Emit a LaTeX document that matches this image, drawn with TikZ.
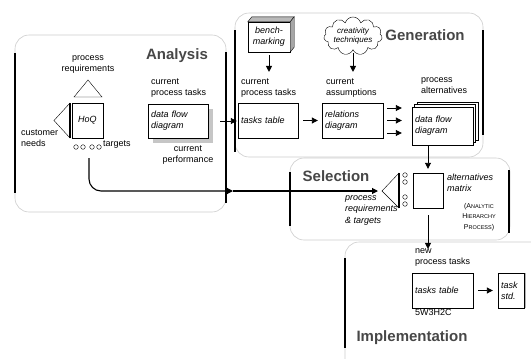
\documentclass[tikz,border=0pt]{standalone}
\usepackage{fontspec}
\setmainfont{Liberation Sans}
\usetikzlibrary{arrows.meta,calc,shadows,shapes.symbols}

\newcommand{\fakesc}[2]{#1{\fontsize{5.5}{6}\selectfont #2}}

\begin{document}
\begin{tikzpicture}[x=1pt, y=-1pt, font=\fontsize{9}{11}\selectfont, >={Triangle[length=6pt,width=6pt]}]

  \tikzstyle{panel}=[draw=gray!40, line width=0.6pt, rounded corners=14pt]
  \tikzstyle{panel edge}=[line width=1.4pt]
  \tikzstyle{title}=[font=\fontsize{15}{15}\selectfont\bfseries, text=black!72]
  \tikzstyle{caption}=[inner sep=0pt, align=left]
  \tikzstyle{plainbox}=[draw, fill=white, inner sep=3pt, align=left, font=\fontsize{9}{11}\selectfont\itshape]
  \tikzstyle{taskbox}=[plainbox, path picture={\draw[line width=2.8pt] (path picture bounding box.north west) -- (path picture bounding box.south west);}]
  \tikzstyle{flow}=[->, line width=0.9pt]

  \clip (0,0) rectangle (531,359);

  % panels
  \draw[panel] (15,35) rectangle (226,212);
  \draw[panel edge] (15,53) -- (15,193) (226,52) -- (226,203);
  \draw[panel] (235,13) rectangle (483,157);
  \draw[panel edge] (235,30) -- (235,152) (483,30) -- (483,135);
  \draw[panel] (290,158) rectangle (510,240);
  \draw[panel edge] (290,172) -- (290,226) (509,170) -- (509,233);
  \draw[panel] (345,242) rectangle (570,390);
  \draw[panel edge] (345,258) -- (345,348);

  % Analysis
  \node[title] (analysis) at (177,56) {Analysis};
  \node[caption, align=center] (procreq) at (88,65) {process\\requirements};
  \node[taskbox, align=center, minimum width=31pt, minimum height=35pt] (hoq) at (87.5,120.5) {HoQ};
  \draw (74,97) -- (88,80) -- (102,97) -- cycle;
  \draw (70,103) -- (54,120.5) -- (70,138);
  \draw[panel edge] (70,103) -- (70,138);
  \node[caption, anchor=west] (custneeds) at (21,138) {customer\\needs};
  \foreach \x in {76,83,92,99}
    \draw (\x,147) circle (2.3pt);
  \node[caption, anchor=west] (targets) at (103,144.5) {targets};
  \node[caption, anchor=west] (capAT) at (151,88.5) {current\\process tasks};
  \node[taskbox, text width=54pt, minimum height=34pt,
        drop shadow={shadow xshift=5pt, shadow yshift=-5pt, fill=gray!45, opacity=1}] (dfdA) at (178,121) {data flow\\diagram};
  \node[caption, align=center] (curperf) at (188,155.5) {current\\performance};

  % Generation
  \node[title] (generation) at (425,35) {Generation};
  \node[taskbox, align=center, text width=36pt, minimum height=30pt] (bench) at (269,37) {bench-\\marking};
  \filldraw[fill=gray!55] (bench.north west) -- ++(4,-5) -- ([shift={(4,-5)}]bench.north east) -- (bench.north east) -- cycle;
  \filldraw[fill=gray!70] (bench.north east) -- ++(4,-5) -- ([shift={(4,-5)}]bench.south east) -- (bench.south east) -- cycle;
  \node[cloud, draw, cloud puffs=11, aspect=2, inner sep=0pt, minimum width=57pt, minimum height=33pt,
        align=center, font=\fontsize{8}{8.5}\selectfont\itshape] (creat) at (353,36) {creativity\\techniques};
  \node[caption, anchor=west] (capGT) at (241,88.5) {current\\process tasks};
  \node[caption, anchor=west] (capCA) at (326,88.5) {current\\assumptions};
  \node[caption, anchor=west] (capPA) at (421,86) {process\\alternatives};
  \node[taskbox, text width=54pt, minimum height=35pt] (ttG) at (268,120.5) {tasks table};
  \node[taskbox, text width=55pt, minimum height=35pt] (relG) at (352.5,120.5) {relations\\diagram};
  \node[plainbox, text width=55pt, minimum height=38pt,
        double copy shadow={shadow xshift=2.5pt, shadow yshift=2.5pt}] (paG) at (442.5,126) {data flow\\diagram};

  \draw[flow, shorten <=3pt, shorten >=7pt] (bench.south) -- (bench.south |- capGT.north);
  \draw[flow, shorten <=3pt, shorten >=7pt] (creat.south) -- (creat.south |- capCA.north);
  \draw[flow, shorten <=12pt, shorten >=1pt] (dfdA.east) -- (dfdA.east -| ttG.west);
  \draw[flow, shorten <=5pt, shorten >=4pt] (ttG) -- (relG);
  \foreach \dy in {-12.5,0,12.5}
    \draw[flow, shorten <=4pt, shorten >=10pt] ($(relG.east)+(0,\dy)$) -- ($(relG.east -| paG.west)+(0,\dy)$);

  % Selection
  \node[title] (selection) at (336,176) {Selection};
  \coordinate (selapex) at (382,191);
  \draw (399,173) -- (selapex) -- (399,208);
  \draw[panel edge] (399,173) -- (399,208);
  \foreach \y in {175,182,197,204}
    \draw (405,\y) circle (2.3pt);
  \node[draw, minimum width=30pt, minimum height=35pt] (altmat) at (428,190.5) {};
  \node[caption, anchor=west, font=\fontsize{9}{11}\selectfont\itshape] (capAM) at (447,183) {alternatives\\matrix};
  \node[caption, align=center, font=\fontsize{7}{10.5}\selectfont] (ahp) at (479,217) {(\fakesc{A}{NALYTIC}\\\fakesc{H}{IERARCHY}\\\fakesc{P}{ROCESS})};
  \node[caption, anchor=west, font=\fontsize{9}{11.5}\selectfont\itshape] (capRT) at (345,210.5) {process\\requirements\\\& targets};

  \draw[flow, shorten >=4pt] (paG.south -| altmat) -- (altmat.north);
  \coordinate (exitA) at (233,191);
  \draw[flow, line width=1.1pt, rounded corners=12pt] ([shift={(1.5,20)}]hoq.south) |- (exitA);
  \draw[flow, line width=1.1pt, shorten >=4pt] (exitA) -- (selapex);

  % Implementation
  \node[title] (implementation) at (412,338) {Implementation};
  \node[caption, anchor=west] (capNT) at (415,258) {new\\process tasks};
  \node[taskbox, text width=55pt, minimum height=35pt] (ttI) at (442.5,290.5) {tasks table};
  \node[taskbox, text width=20pt, minimum height=35pt,
        drop shadow={shadow xshift=2pt, shadow yshift=0pt, fill=gray!60, opacity=1}] (tstd) at (511,290.5) {task\\std.};
  \node[caption, anchor=west] (w5) at (415,312) {5W3H2C};

  \draw[flow, shorten <=7pt] (altmat.south) -- (altmat.south |- capNT.north);
  \draw[flow, shorten <=5pt, shorten >=5pt] (ttI) -- (tstd);

\end{tikzpicture}
\end{document}
